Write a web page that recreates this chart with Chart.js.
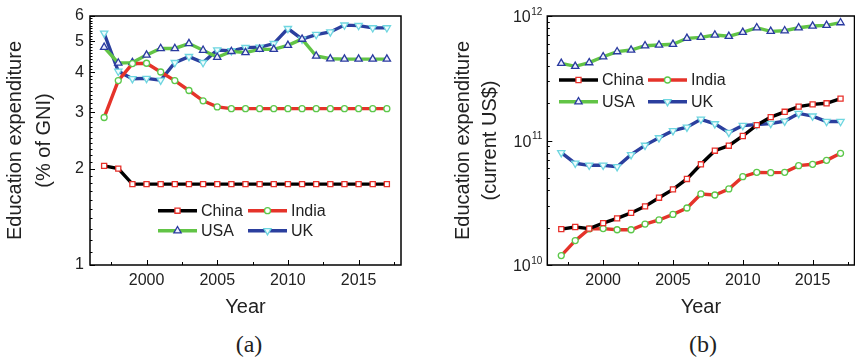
<!DOCTYPE html>
<html>
<head>
<meta charset="utf-8">
<script src="https://cdn.jsdelivr.net/npm/chart.js@4.4.1/dist/chart.umd.min.js"></script>
<style>
  html, body { margin: 0; padding: 0; background: #fff; overflow: hidden; }
  #wrap { position: relative; width: 855px; height: 359px; overflow: hidden; }
  .panel { position: absolute; top: 0; width: 430px; height: 320px; }
  .cap { position: absolute; top: 330px; width: 80px; margin-left: -40px; text-align: center;
         font: 24px "Liberation Serif", "Times New Roman", serif; line-height: 28px; color: #222; }
</style>
</head>
<body>
<div id="wrap">
  <div class="panel" style="left:0"><canvas id="chartA"></canvas></div>
  <div class="panel" style="left:430px"><canvas id="chartB"></canvas></div>
  <div class="cap" style="left:249px">(a)</div>
  <div class="cap" style="left:703px">(b)</div>
</div>
<script>
const years = [1997, 1998, 1999, 2000, 2001, 2002, 2003, 2004, 2005, 2006, 2007,
  2008, 2009, 2010, 2011, 2012, 2013, 2014, 2015, 2016, 2017];

// (a) education expenditure, % of GNI
const gniChina = [2.04, 2.0, 1.79, 1.79, 1.79, 1.79, 1.79, 1.79, 1.79, 1.79, 1.79,
  1.79, 1.79, 1.79, 1.79, 1.79, 1.79, 1.79, 1.79, 1.79, 1.79];
const gniIndia = [2.89, 3.77, 4.26, 4.27, 4.01, 3.77, 3.51, 3.26, 3.12, 3.08, 3.08,
  3.08, 3.08, 3.08, 3.08, 3.08, 3.08, 3.08, 3.08, 3.08, 3.08];
const gniUSA = [4.79, 4.28, 4.29, 4.53, 4.75, 4.75, 4.92, 4.69, 4.46, 4.65, 4.61,
  4.72, 4.72, 4.86, 5.08, 4.50, 4.41, 4.40, 4.40, 4.40, 4.40];
const gniUK = [5.30, 4.03, 3.82, 3.83, 3.78, 4.29, 4.48, 4.29, 4.70, 4.67, 4.78,
  4.79, 4.92, 5.48, 5.08, 5.25, 5.35, 5.62, 5.60, 5.51, 5.51];

// (b) education expenditure, current US$
const usdChina = [1.94e10, 2.02e10, 1.96e10, 2.17e10, 2.37e10, 2.62e10, 2.96e10, 3.47e10,
  4.05e10, 4.91e10, 6.44e10, 8.28e10, 9.08e10, 1.087e11, 1.33e11, 1.54e11, 1.70e11,
  1.87e11, 1.95e11, 1.99e11, 2.17e11];
const usdIndia = [1.19e10, 1.57e10, 1.95e10, 1.96e10, 1.92e10, 1.92e10, 2.13e10, 2.30e10,
  2.55e10, 2.87e10, 3.72e10, 3.65e10, 4.08e10, 5.12e10, 5.55e10, 5.52e10, 5.55e10,
  6.28e10, 6.44e10, 6.93e10, 7.89e10];
const usdUSA = [4.17e11, 3.94e11, 4.22e11, 4.71e11, 5.17e11, 5.33e11, 5.77e11, 5.85e11,
  5.93e11, 6.62e11, 6.74e11, 7.04e11, 6.87e11, 7.40e11, 8.05e11, 7.53e11, 7.62e11,
  8.05e11, 8.31e11, 8.41e11, 8.84e11];
const usdUK = [7.98e10, 6.56e10, 6.32e10, 6.32e10, 6.16e10, 7.69e10, 9.14e10, 1.05e11,
  1.20e11, 1.28e11, 1.48e11, 1.36e11, 1.16e11, 1.32e11, 1.34e11, 1.37e11, 1.43e11,
  1.65e11, 1.57e11, 1.42e11, 1.42e11];

// axis ticks
const xTicks = [1997.5, 2000, 2002.5, 2005, 2007.5, 2010, 2012.5, 2015, 2017.5];
const gniMajor = [1, 2, 3, 4, 5, 6];
const usdMajor = [1e10, 1e11, 1e12];

const FONT = "'Liberation Sans', Arial, sans-serif";
const TXT = "#222";

const series = [
  { label: "China", line: "#000000", mark: "#e8302a", fill: "#ffffff", style: "rect", r: 3.6 },
  { label: "India", line: "#e5332a", mark: "#5cc84a", fill: "#ffffff", style: "circle", r: 3 },
  { label: "USA", line: "#62c446", mark: "#2a3aa0", fill: "#eef0ff", style: "triangle", r: 4.2 },
  { label: "UK", line: "#2b3f9e", mark: "#6fd6e0", fill: "#f0fcfd", style: "triangle", r: 4.2, rot: 180 },
];

function makeSets(arrs) {
  return arrs.map((arr, i) => {
    const s = series[i];
    return {
      label: s.label,
      data: years.map((yr, k) => ({ x: yr, y: arr[k] })),
      borderColor: s.line,
      borderWidth: 3.4,
      tension: 0,
      pointStyle: s.style,
      pointRadius: s.r,
      pointRotation: s.rot || 0,
      pointBorderColor: s.mark,
      pointBackgroundColor: s.fill,
      pointBorderWidth: 1.3,
    };
  });
}

// minor ticks between majors (log axes)
function gniTickList() {
  const out = [];
  for (let m = 1; m < 6; m++) {
    for (let k = 0; k < 10; k++) out.push({ value: +(m + k / 10).toFixed(1), major: k === 0 });
  }
  out.push({ value: 6, major: true });
  return out;
}
function usdTickList() {
  const out = [];
  [1e10, 1e11].forEach((d) => {
    for (let k = 1; k < 10; k++) out.push({ value: d * k, major: k === 1 });
  });
  out.push({ value: 1e12, major: true });
  return out;
}

// small marker drawing for the legend
function marker(ctx, s, x, y) {
  ctx.save();
  ctx.fillStyle = s.fill;
  ctx.strokeStyle = s.mark;
  ctx.lineWidth = 1.3;
  ctx.beginPath();
  if (s.style === "rect") {
    const h = s.r * Math.SQRT1_2;
    ctx.rect(x - h, y - h, 2 * h, 2 * h);
  } else if (s.style === "circle") {
    ctx.arc(x, y, s.r, 0, Math.PI * 2);
  } else {
    const dir = s.rot ? -1 : 1;
    const r = s.r;
    ctx.moveTo(x, y - dir * r);
    ctx.lineTo(x + r * 0.866, y + dir * r * 0.5);
    ctx.lineTo(x - r * 0.866, y + dir * r * 0.5);
    ctx.closePath();
  }
  ctx.fill();
  ctx.stroke();
  ctx.restore();
}

// inward tick marks, box frame, and legend
const decor = {
  id: "decor",
  afterDraw(chart, args, opts) {
    const { ctx, chartArea: a, scales } = chart;
    const x = scales.x, y = scales.y;
    ctx.save();
    ctx.strokeStyle = "#000";
    ctx.lineWidth = 1;
    ctx.beginPath();
    x.ticks.forEach((t) => {
      const px = Math.round(x.getPixelForValue(t.value)) + 0.5;
      const len = t.value % 5 === 0 ? 5 : 3;
      ctx.moveTo(px, a.bottom);
      ctx.lineTo(px, a.bottom - len);
    });
    y.ticks.forEach((t) => {
      const py = Math.round(y.getPixelForValue(t.value)) + 0.5;
      const len = t.major ? 5 : 2.5;
      ctx.moveTo(a.left, py);
      ctx.lineTo(a.left + len, py);
    });
    ctx.stroke();
    ctx.lineWidth = 1.5;
    ctx.strokeRect(a.left, a.top, a.right - a.left, a.bottom - a.top);

    // power-of-ten labels
    if (opts.powerLabels) {
      ctx.fillStyle = TXT;
      ctx.textBaseline = "middle";
      opts.powerLabels.forEach((v) => {
        const py = y.getPixelForValue(v);
        const ex = String(Math.round(Math.log10(v)));
        ctx.font = "10px " + FONT;
        ctx.textAlign = "right";
        const ew = ctx.measureText(ex).width;
        ctx.fillText(ex, a.left - 5, py - 4);
        ctx.font = "16px " + FONT;
        ctx.fillText("10", a.left - 5 - ew - 0.5, py + 2);
      });
    }

    // legend
    const lg = opts.legend;
    ctx.font = "16px " + FONT;
    ctx.textAlign = "left";
    ctx.textBaseline = "middle";
    series.forEach((s, i) => {
      const lx = a.left + lg.x + (i % 2) * lg.colGap;
      const ly = a.top + lg.y + Math.floor(i / 2) * lg.rowGap;
      ctx.strokeStyle = s.line;
      ctx.lineWidth = 3.4;
      ctx.beginPath();
      ctx.moveTo(lx, ly);
      ctx.lineTo(lx + 39, ly);
      ctx.stroke();
      marker(ctx, s, lx + 19.5, ly);
      ctx.fillStyle = TXT;
      ctx.fillText(s.label, lx + 43, ly + 1);
    });
    ctx.restore();
  },
};

function baseOptions(cfg) {
  return {
    responsive: true,
    maintainAspectRatio: false,
    animation: false,
    events: [],
    layout: { padding: { left: 0, right: cfg.padRight, top: 16, bottom: 0 } },
    plugins: {
      legend: { display: false },
      tooltip: { enabled: false },
      decor: { legend: cfg.legend, powerLabels: cfg.powerLabels },
    },
    scales: {
      x: {
        type: "linear",
        min: 1996,
        max: 2018,
        afterBuildTicks: (sc) => { sc.ticks = xTicks.map((v) => ({ value: v })); },
        afterFit: (sc) => { sc.height = 55; },
        grid: { display: false, drawTicks: false },
        border: { display: false },
        ticks: {
          autoSkip: false,
          maxRotation: 0,
          padding: 6,
          color: TXT,
          font: { size: 16, family: FONT },
          callback: (v) => (v % 5 === 0 ? String(v) : ""),
        },
        title: {
          display: true,
          text: "Year",
          color: TXT,
          font: { size: 20, family: FONT },
          padding: { top: 0, bottom: 1 },
        },
      },
      y: {
        type: "logarithmic",
        min: cfg.yMin,
        max: cfg.yMax,
        afterBuildTicks: (sc) => { sc.ticks = cfg.tickList(); },
        afterFit: (sc) => { sc.width = cfg.yWidth; },
        grid: { display: false, drawTicks: false },
        border: { display: false },
        ticks: {
          display: cfg.showTickLabels,
          autoSkip: false,
          padding: 6,
          color: TXT,
          font: { size: 16, family: FONT },
          callback: (v) => (gniMajor.includes(v) ? String(v) : ""),
        },
        title: {
          display: true,
          text: cfg.yTitle,
          color: TXT,
          font: { size: 20, family: FONT, lineHeight: cfg.titleLH },
          padding: { top: cfg.titlePad, bottom: 0 },
        },
      },
    },
  };
}

new Chart(document.getElementById("chartA"), {
  type: "line",
  data: { datasets: makeSets([gniChina, gniIndia, gniUSA, gniUK]) },
  options: baseOptions({
    padRight: 29,
    yMin: 1,
    yMax: 6,
    yWidth: 90,
    tickList: gniTickList,
    showTickLabels: true,
    yTitle: ["Education expenditure", "(% of GNI)"],
    titleLH: 1.45,
    titlePad: 1,
    legend: { x: 68, y: 194.7, colGap: 90, rowGap: 20 },
  }),
  plugins: [decor],
});

new Chart(document.getElementById("chartB"), {
  type: "line",
  data: { datasets: makeSets([usdChina, usdIndia, usdUSA, usdUK]) },
  options: baseOptions({
    padRight: 2,
    yMin: 1e10,
    yMax: 1e12,
    yWidth: 117.3,
    tickList: usdTickList,
    showTickLabels: false,
    yTitle: ["Education expenditure", "(current US$)"],
    titleLH: 1.35,
    titlePad: 19.5,
    legend: { x: 11.7, y: 64, colGap: 89, rowGap: 21.7 },
    powerLabels: usdMajor,
  }),
  plugins: [decor],
});
</script>
</body>
</html>
